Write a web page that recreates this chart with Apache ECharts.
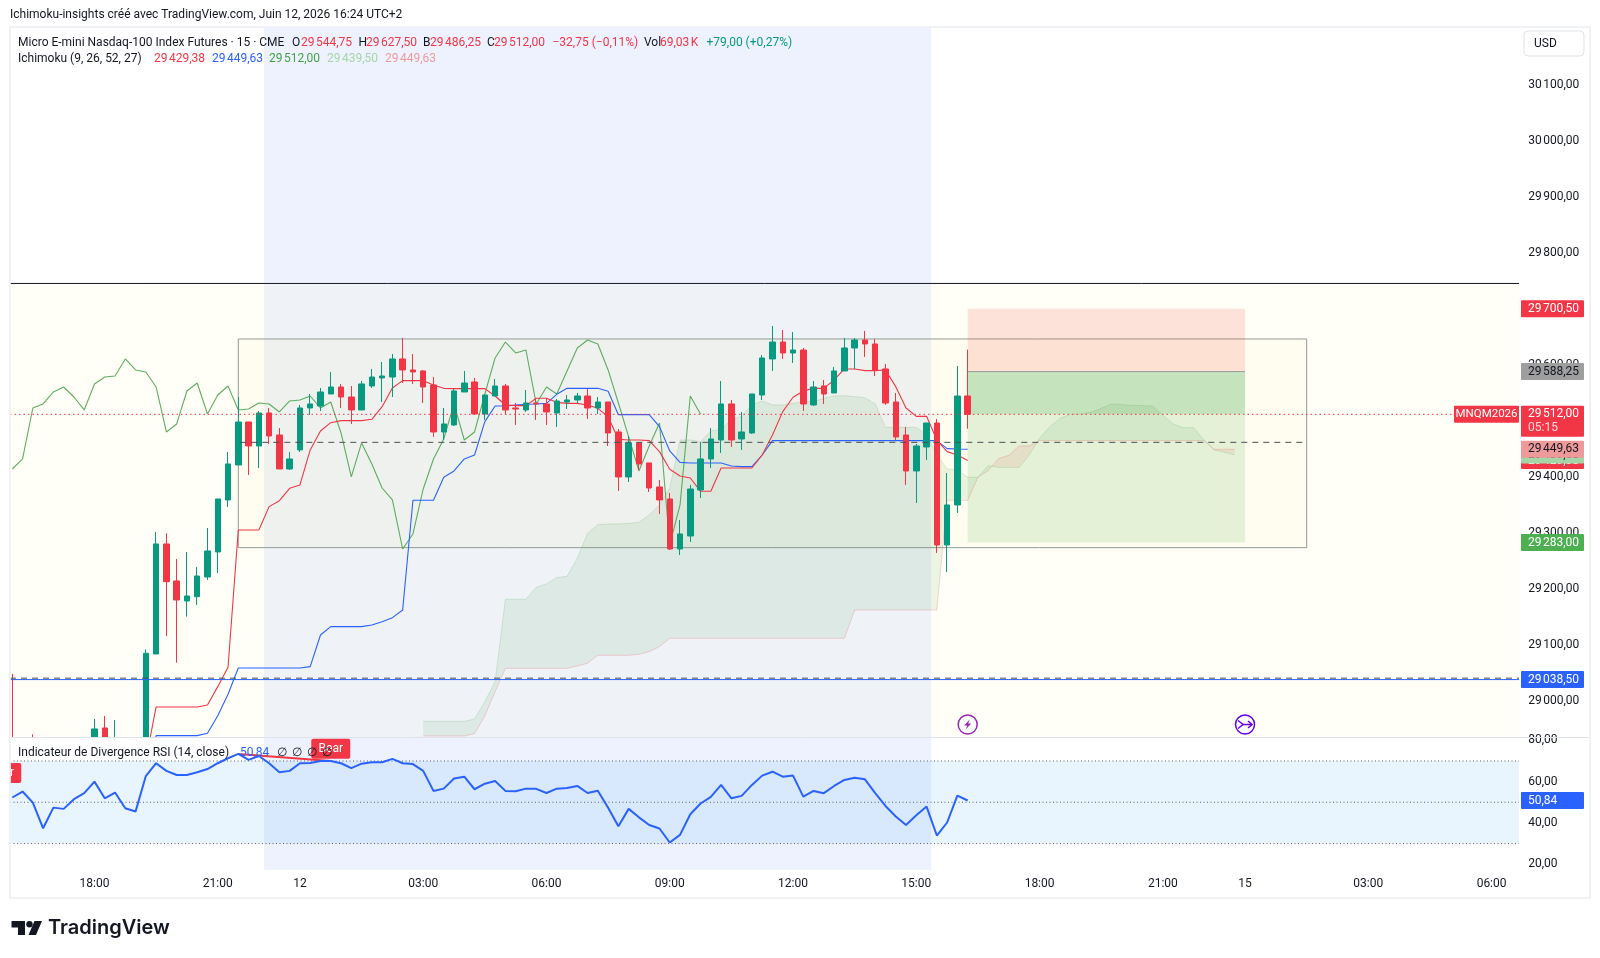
<!DOCTYPE html>
<html><head><meta charset="utf-8">
<script src="https://cdn.jsdelivr.net/npm/echarts@6/dist/echarts.min.js"></script>
<style>html,body{margin:0;padding:0;background:#fff}#c{width:1600px;height:958px}</style></head>
<body><div id="c"></div>
<script>
const tickLabels = {8:'18:00',20:'21:00',28:'12',40:'03:00',52:'06:00',64:'09:00',76:'12:00',88:'15:00',100:'18:00',112:'21:00',120:'15',132:'03:00',144:'06:00'};
const barCount = 147;
const categories = Array.from({length: barCount}, (_, i) => tickLabels[i] || '');
// [open, close, low, high]
const candles = [
[28930,28900,28890,29048.5],[28905,28912,28895,28925],[28920,28905,28895,28940.8],[28905,28895,28885,28915],
[28895,28900,28880,28910],[28900,28890,28875,28915],[28890,28905,28880,28918],[28905,28930,28895,28934],
[28925,28950.4,28915,28968.2],[28952.1,28920,28905,28973.5],[28910,28932,28900,28966.4],[28932,28925,28905,28934],
[28925,28933,28915,28934],[28930,29085.4,28925,29092.5],[29084.2,29280.6,29084.2,29302],[29280.6,29213.3,29116.3,29299.6],
[29214.5,29180.6,29068.7,29253.8],[29178.8,29187.7,29150.9,29266.3],[29186.5,29223.4,29171.7,29239.5],[29221.7,29268.1,29216.3,29309.1],
[29266.3,29360.9,29228.8,29360.9],[29359.1,29423.4,29346.6,29444.8],[29421.6,29498.3,29421.6,29543],[29498.3,29455.5,29403.7,29498.3],
[29455.5,29514.4,29416.2,29518],[29514.4,29473.3,29459.1,29523.3],[29475.1,29414.4,29414.4,29487.6],[29414.4,29432.3,29412.7,29444.8],
[29448.4,29523.3,29444.8,29528.7],[29523.3,29530.5,29510.8,29548.3],[29526.9,29551.9,29518,29559],[29548.3,29560.8,29548.3,29587.6],
[29560.8,29542.9,29523.3,29566.2],[29542.9,29519.8,29494.8,29562.6],[29519.8,29566.2,29519.8,29571.5],[29562.6,29578.6,29559,29593],
[29576.9,29580.4,29534,29605.4],[29578.6,29610.8,29542.9,29619.7],[29610.8,29591.2,29567.9,29648.3],[29591.2,29587.6,29566.2,29619.7],
[29589.4,29560.8,29532.2,29591.2],[29564.4,29480.5,29471.6,29578.6],[29480.5,29494.8,29466.2,29523.3],[29493,29553.7,29491.2,29557.2],
[29551.9,29567.9,29551.9,29589.4],[29569.7,29512.6,29512.6,29576.9],[29512.6,29546.5,29501.9,29546.5],[29544.7,29562.6,29544.7,29575.1],
[29562.6,29519.8,29510.8,29566.2],[29523.3,29521.5,29493,29532.2],[29519.8,29532.2,29516.2,29555.5],[29532.2,29530.5,29501.9,29541.2],
[29530.5,29516.2,29493,29541.2],[29514.4,29535.8,29489.4,29539.4],[29534,29537.6,29521.5,29546.5],[29537.6,29544.7,29532.2,29550.1],
[29544.7,29523.3,29503.7,29557.2],[29523.3,29534,29512.6,29542.9],[29534,29478.7,29455.5,29534],[29480.5,29400.2,29375.2,29485.8],
[29400.2,29460.9,29391.2,29473.3],[29460.9,29423.4,29412.7,29460.9],[29425.2,29380.5,29373.4,29425.2],[29382.3,29359.1,29334.1,29394.8],
[29360.9,29271.6,29269.9,29371.6],[29271.6,29298.4,29260.9,29323.4],[29294.8,29378.7,29284.1,29385.9],[29376.9,29432.3,29362.7,29462.6],
[29432.3,29468,29416.2,29487.6],[29466.2,29530.5,29443,29571.5],[29530.5,29466.2,29453.7,29537.6],[29468,29480.5,29448.4,29516.2],
[29478.7,29548.3,29476.9,29548.3],[29546.5,29612.6,29537.6,29617.9],[29610.8,29641.1,29589.4,29669.7],[29641.1,29621.5,29610.8,29662.5],
[29621.5,29626.8,29603.6,29659],[29626.8,29530.5,29518,29630.4],[29528.7,29560.8,29526.9,29571.5],[29562.6,29548.3,29530.5,29573.3],
[29550.1,29589.4,29550.1,29596.5],[29589.4,29630.4,29589.4,29648.3],[29630.4,29644.7,29593,29648.3],[29644.7,29637.6,29614.4,29660.8],
[29637.6,29591.2,29580.4,29646.5],[29593,29532.2,29528.7,29601.9],[29534,29471.6,29466.2,29550.1],[29475.1,29410.9,29385.9,29489.4],
[29410.9,29455.5,29353.8,29459.1],[29453.7,29496.5,29430.5,29496.5],[29496.5,29278.8,29264.5,29503.7],[29278.8,29350.2,29230.6,29407.3],
[29350.2,29544.7,29335.9,29598.3],[29544.75,29512,29486.25,29627.5]];
const n=null;
const tenkan = [n,n,n,n,n,n,n,n,n,n,n,n,n,28895,28989.6,28989.6,28989.6,28989.6,28989.6,28993.2,29025.9,29060.4,29305.5,29305.5,29305.5,29347.2,29357.9,29379.9,29385.9,29448.4,29482.3,29497.1,29500.7,29500.7,29500.7,29503.1,29525.7,29559,29572.1,29572.1,29572.1,29564.4,29558.4,29557.8,29557.8,29557.8,29557.8,29544.7,29528.7,29527.5,29527.5,29540.6,29540.6,29533.4,29531.6,29531.6,29528.7,29522.7,29507.8,29467.4,29466.2,29466.2,29465,29445.4,29413.8,29401.9,29398.4,29374.6,29374.6,29416.2,29416.2,29416.2,29416.2,29439.4,29475.1,29516.8,29542.4,29553.6,29558.4,29558.4,29573.3,29593,29593,29590,29590,29591.2,29561.4,29523.3,29508.4,29508.4,29466.2,29445.4,29439.4,29429.38];
const kijun = [n,n,n,n,n,n,n,n,n,n,n,n,n,28847,28938.4,28938.4,28938.4,28938.4,28938.4,28942.6,28974.1,29012.2,29059.2,29059.2,29059.2,29059.2,29059.2,29059.2,29059.2,29061.6,29118.1,29133,29133,29133,29133,29136,29141.9,29149,29162.7,29358.5,29358.5,29358.5,29399.6,29410.9,29432.3,29439.4,29498.9,29526.9,29526.9,29528.7,29529.9,29530.5,29531.6,29547.7,29558.4,29558.4,29558.4,29558.4,29553.1,29511.4,29511.4,29511.4,29511.4,29490,29446.6,29426.3,29425.1,29425.1,29425.1,29425.1,29419.8,29418.6,29418.6,29439.4,29465,29465,29465,29465,29465,29465,29465,29465,29465,29465,29465,29465,29465,29465,29465,29465,29465,29450.7,29450.1,29449.63];
const chikou = [29414.4,29432.3,29523.3,29530.5,29551.9,29560.8,29542.9,29519.8,29566.2,29578.6,29580.4,29610.8,29591.2,29587.6,29560.8,29480.5,29494.8,29553.7,29567.9,29512.6,29546.5,29562.6,29519.8,29521.5,29532.2,29530.5,29516.2,29535.8,29537.6,29544.7,29523.3,29534,29478.7,29400.2,29460.9,29423.4,29380.5,29359.1,29271.6,29298.4,29378.7,29432.3,29468,29530.5,29466.2,29480.5,29548.3,29612.6,29641.1,29621.5,29626.8,29530.5,29560.8,29548.3,29589.4,29630.4,29644.7,29637.6,29591.2,29532.2,29471.6,29410.9,29455.5,29496.5,29278.8,29350.2,29544.7,29512];
const spanStart = 40;
const spanA = [28964,28964,28964,28964,28964,28968.2,28999.1,29034.8,29181.8,29181.8,29181.8,29203.2,29209.2,29220.5,29222.8,29255,29299.6,29315.1,29316.3,29316.3,29317.4,29319.2,29332.3,29350.2,29379.9,29466.2,29466.2,29463.2,29482.3,29485.2,29501.9,29509,29528.7,29535.8,29528.7,29528.7,29531.6,29534.6,29534.6,29540.6,29544.7,29545.3,29543.5,29541.8,29530.5,29488.8,29488.8,29488.8,29488.8,29475.1,29439.4,29414.4,29412.7,29399.6,29399.6,29420.4,29417.4,29417.4,29417.4,29439.4,29469.2,29490,29504.9,29512,29512.6,29515.6,29522.7,29530.5,29529.3,29528.1,29527.5,29526.9,29510.8,29494.8,29488.2,29488.2,29466.2,29448.4,29444.2,29439.5];
const spanB = [28937.8,28937.8,28937.8,28937.8,28937.8,28942,28974.1,29017,29058.6,29058.6,29058.6,29058.6,29058.6,29058.6,29058.6,29062.8,29067.6,29081.8,29081.8,29081.8,29081.8,29083.6,29088.4,29097.3,29112.2,29112.2,29112.2,29112.2,29112.2,29112.2,29112.2,29112.2,29112.2,29112.2,29112.2,29112.2,29112.2,29112.2,29112.2,29112.2,29112.2,29112.2,29162.7,29162.7,29162.7,29162.7,29162.7,29162.7,29162.7,29162.7,29162.7,29358.5,29358.5,29358.5,29399.6,29411.5,29432.9,29438.8,29455.5,29455.5,29465,29465,29465,29465,29465,29465,29465,29465,29465,29465,29465,29465,29465,29465,29465,29465,29465,29449.63,29449.63,29449.63];
const rsi = [52.3,55.2,49.8,37.4,47.4,46.8,51.5,54.4,60,51.9,54.7,47.1,45.5,62.7,68.9,65.2,63.2,63.2,64.5,66.1,68.9,71.3,73.4,70.5,72.4,68.9,64.5,65.2,68.9,69,70,70,68.9,66.5,68.7,69.4,69.4,71,68.9,68.5,65.2,55.5,56.6,61.5,62.4,56.3,59,60.3,55.5,55.3,56.6,56.5,54.5,56.6,56.9,57.9,54.5,55.6,47.3,38.4,46.8,42.7,39,37.3,30.5,34.2,44.2,49.4,52.6,58.4,51.9,53.1,58.4,62.9,64.8,62.4,62.9,52.7,55.5,54.4,57.9,60.8,61.9,61.1,54.4,48.2,43.1,39,43.7,47.9,33.9,40.2,53.2,50.84];
const bearDivergence = [[22,73.4],[31,70]];
const priceTicks = [29000,29100,29200,29300,29400,29500,29600,29700,29800,29900,30000,30100];
const rsiTicks = [20,40,60,80];

const FONT = 'Roboto,sans-serif';
const UP='#089981', DOWN='#F23645', BLUE='#2962FF';
function fmt(v){const p=v.toFixed(2).split('.');return p[0].replace(/\B(?=(\d{3})+$)/g,'\u202f')+','+p[1];}
function xAt(api,v){const i=Math.floor(v);const a=api.coord([i,0])[0],b=api.coord([i+1,0])[0];return a+(b-a)*(v-i);}
const py=(api,p)=>api.coord([0,p])[1];
function rectShape(api,x0,x1,p0,p1){const a=py(api,p0),b=py(api,p1);return {x:x0,y:Math.min(a,b),width:x1-x0,height:Math.abs(b-a)};}

const C = {sessionStart:24.5,sessionEnd:89.45,black:29745.6,boxL:22,boxR:126,boxT:29646.5,boxB:29274,toolL:93,toolR:120,stop:29700.5,entry:29588.25,target:29283,last:29512,mid:29462,low:29041,blue:29038.5};

function renderBg(params,api){
  const cs=params.coordSys, L=10, R=1519, top=cs.y, bot=cs.y+cs.height;
  const sx0=xAt(api,C.sessionStart), sx1=xAt(api,C.sessionEnd);
  const bl=py(api,C.black);
  const kids=[
   {type:'rect',shape:{x:sx0,y:top,width:sx1-sx0,height:bot-top},style:{fill:'#eef2fe'}},
   {type:'rect',shape:{x:L,y:bl,width:R-L,height:bot-bl},style:{fill:'rgba(255,245,157,0.08)'}},
  ];
  const bx0=xAt(api,C.boxL), bx1=xAt(api,C.boxR);
  kids.push({type:'rect',shape:rectShape(api,bx0,bx1,C.boxT,C.boxB),style:{fill:'rgba(255,235,59,0.04)',stroke:'#939c96',lineWidth:1}});
  const tx0=xAt(api,C.toolL), tx1=xAt(api,C.toolR);
  kids.push({type:'rect',shape:rectShape(api,tx0,tx1,C.stop,C.entry),style:{fill:'rgba(244,67,54,0.15)'}});
  kids.push({type:'rect',shape:rectShape(api,tx0,tx1,C.entry,C.target),style:{fill:'rgba(76,175,80,0.15)'}});
  kids.push({type:'rect',shape:rectShape(api,tx0,tx1,C.entry,C.last),style:{fill:'rgba(76,175,80,0.2)'}});
  kids.push({type:'line',shape:{x1:tx0,x2:tx1,y1:py(api,C.entry),y2:py(api,C.entry)},style:{stroke:'#9b9b9b',lineWidth:1}});
  return {type:'group',children:kids};
}
function renderCloud(params,api){
  const polys=[]; let upper=[],lower=[],sign=null;
  const flush=()=>{ if(upper.length>1){polys.push({type:'polygon',shape:{points:upper.concat(lower.slice().reverse())},style:{fill:sign>=0?'rgba(67,160,71,0.1)':'rgba(244,67,54,0.1)'}});} };
  for(let k=0;k<spanA.length;k++){
    const xp=api.coord([spanStart+k,0])[0];
    const ya=py(api,spanA[k]), yb=py(api,spanB[k]);
    const s=spanA[k]>=spanB[k]?1:-1;
    if(sign!==null && s!==sign){
      const xo=api.coord([spanStart+k-1,0])[0], yao=py(api,spanA[k-1]), ybo=py(api,spanB[k-1]);
      const t=(yao-ybo)/((yao-ybo)-(ya-yb));
      const cx=xo+(xp-xo)*t, cy=yao+(ya-yao)*t;
      upper.push([cx,cy]);lower.push([cx,cy]);flush();upper=[[cx,cy]];lower=[[cx,cy]];
    }
    sign=s; upper.push([xp,ya]);lower.push([xp,yb]);
  }
  flush();
  return {type:'group',children:polys};
}
function renderFg(params,api){
  const L=10,R=1519; const kids=[];
  const h=(x1,x2,p,stroke,dash,w)=>{const y=py(api,p);kids.push({type:'line',shape:{x1,x2,y1:y,y2:y},style:{stroke,lineWidth:w||1,lineDash:dash||null}});};
  h(L,R,C.black,'#131722');
  h(L,1453,C.last,'#F23645',[1.5,3]);
  h(xAt(api,C.boxL)+2,xAt(api,125.6),C.mid,'#4a4f55',[6,5]);
  h(L,R,C.low,'#4a4f55',[6,5]);
  h(L,R,C.blue,BLUE,null,1);
  return {type:'group',children:kids};
}
function tagAt(api,p,text,bg,fg,extraH){
  const y=py(api,p),H=17;const x=1521,W=63;
  return [{type:'rect',shape:{x,y:y-H/2,width:W,height:H+(extraH||0),r:1},style:{fill:bg}},
   {type:'text',style:{x:x+7,y,text,fill:fg,font:'12px '+FONT,align:'left',verticalAlign:'middle',textAlign:'left',textVerticalAlign:'middle'}}];
}
function renderTags(params,api){
  let kids=[];
  kids=kids.concat(tagAt(api,29429.38,fmt(29429.38),'#F23645','#fff'));
  kids=kids.concat(tagAt(api,29439.5,fmt(29439.5),'#A5D6A7','#131722'));
  kids=kids.concat(tagAt(api,29449.63,fmt(29449.63),'#EF9A9A','#131722'));
  kids=kids.concat(tagAt(api,29700.5,fmt(29700.5),'#F23645','#fff'));
  kids=kids.concat(tagAt(api,29588.25,fmt(29588.25),'#9e9e9e','#131722'));
  kids=kids.concat(tagAt(api,C.last,fmt(C.last),'#F23645','#fff',14));
  const ly=py(api,C.last);
  kids.push({type:'text',style:{x:1528,y:ly+14,text:'05:15',fill:'#ffd9dc',font:'12px '+FONT,align:'left',verticalAlign:'middle',textAlign:'left',textVerticalAlign:'middle'}});
  kids.push({type:'rect',shape:{x:1454,y:ly-8.5,width:65,height:17,r:1},style:{fill:'#F23645'}});
  kids.push({type:'text',style:{x:1486.5,y:ly,text:'MNQM2026',fill:'#fff',font:'11.5px '+FONT,align:'center',verticalAlign:'middle',textAlign:'center',textVerticalAlign:'middle'}});
  kids=kids.concat(tagAt(api,C.target,fmt(C.target),'#4CAF50','#fff'));
  kids=kids.concat(tagAt(api,C.blue,fmt(C.blue),BLUE,'#fff'));
  const iy=724.5, ix=api.coord([C.toolL,0])[0], jx=api.coord([C.toolR,0])[0];
  kids.push({type:'circle',shape:{cx:ix,cy:iy,r:9.5},style:{fill:'#fff',stroke:'#9C27B0',lineWidth:1.5}});
  kids.push({type:'polygon',shape:{points:[[ix+2,iy-5],[ix-3.5,iy+1],[ix-0.5,iy+1],[ix-2,iy+5],[ix+3.5,iy-1],[ix+0.5,iy-1]]},style:{fill:'#9C27B0'}});
  kids.push({type:'circle',shape:{cx:jx,cy:iy,r:9.5},style:{fill:'#fff',stroke:'#6200EA',lineWidth:1.5}});
  kids.push({type:'polyline',shape:{points:[[jx-7,iy-4],[jx-2,iy],[jx-7,iy+4]]},style:{fill:'none',stroke:'#6200EA',lineWidth:1.5}});
  kids.push({type:'polyline',shape:{points:[[jx-2,iy],[jx+7,iy]]},style:{fill:'none',stroke:'#6200EA',lineWidth:1.5}});
  kids.push({type:'polyline',shape:{points:[[jx+3,iy-3.5],[jx+7,iy],[jx+3,iy+3.5]]},style:{fill:'none',stroke:'#6200EA',lineWidth:1.5}});
  return {type:'group',children:kids};
}
function renderRsiBg(params,api){
  const cs=params.coordSys, L=10,R=1519, top=cs.y, bot=cs.y+cs.height;
  const sx0=xAt(api,C.sessionStart), sx1=xAt(api,C.sessionEnd);
  const ya=py(api,70),yb=py(api,30),ym=py(api,50);
  const kids=[{type:'rect',shape:{x:L,y:top,width:R-L,height:bot-top+2},style:{fill:'#ffffff'}},
    {type:'rect',shape:{x:sx0,y:top,width:sx1-sx0,height:bot-top},style:{fill:'#eef2fe'}},
    {type:'rect',shape:{x:L,y:ya,width:R-L,height:yb-ya},style:{fill:'rgba(33,150,243,0.1)'}}];
  [ya,ym,yb].forEach(y=>kids.push({type:'line',shape:{x1:L,x2:R,y1:y,y2:y},style:{stroke:'#5d606b',lineWidth:1,lineDash:[1,2.5]}}));
  return {type:'group',children:kids};
}
function renderRsiTags(params,api){
  const lab=(cx,val,w,t)=>{const y=py(api,val);return [
    {type:'rect',shape:{x:cx-w/2,y:y-10,width:w,height:20,r:2},style:{fill:'#F23645'}},
    {type:'text',style:{x:cx,y,text:t,fill:'#fff',font:'12px '+FONT,align:'center',verticalAlign:'middle',textAlign:'center',textVerticalAlign:'middle'}}];};
  const x31=api.coord([31,0])[0];
  let kids=lab(x31,75.9,39,'Bear').concat(lab(x31-329,64.2,39,'Bear'));
  const y=py(api,rsi[rsi.length-1]);
  kids.push({type:'rect',shape:{x:1521,y:y-8.5,width:63,height:17,r:1},style:{fill:BLUE}});
  kids.push({type:'text',style:{x:1528,y,text:fmt(50.84),fill:'#fff',font:'12px '+FONT,align:'left',verticalAlign:'middle',textAlign:'left',textVerticalAlign:'middle'}});
  return {type:'group',children:kids};
}

const one=[[0,0]];
const lineS=(name,data,color,w,z,opacity)=>({name,type:'line',data,xAxisIndex:0,yAxisIndex:0,symbol:'none',z,silent:true,lineStyle:{color,width:w,opacity:opacity==null?1:opacity},connectNulls:false,animation:false});
const pad=(start,arr)=>Array(start).fill(null).concat(arr);

const chart=echarts.init(document.getElementById('c'),null,{renderer:'canvas'});
const txt=(x,y,text,fill,font,extra)=>Object.assign({type:'text',z:60,style:{x,y,text,fill,font:font||('12px '+FONT),textAlign:'left',textVerticalAlign:'middle'}},extra||{});
const RED='#F23645';
const graphicEls=[
 {type:'rect',z:50,shape:{x:0,y:20,width:10.5,height:900},style:{fill:'#fff'}},
 {type:'rect',z:60,shape:{x:10,y:27,width:1580,height:871},style:{fill:'none',stroke:'#eceef2',lineWidth:1.5}},
 {type:'line',z:55,shape:{x1:10.5,x2:1590,y1:737.5,y2:737.5},style:{stroke:'#e0e3eb',lineWidth:1}},
 txt(10,15,'Ichimoku-insights créé avec TradingView.com, Juin 12, 2026 16:24 UTC+2','#131722'),
 txt(18,42.5,'Micro E-mini Nasdaq-100 Index Futures · 15 · CME','#131722'),
 txt(292,42.5,'O','#131722'),txt(301,42.5,fmt(29544.75),RED),
 txt(358.5,42.5,'H','#131722'),txt(366,42.5,fmt(29627.5),RED),
 txt(423,42.5,'B','#131722'),txt(430,42.5,fmt(29486.25),RED),
 txt(487,42.5,'C','#131722'),txt(494,42.5,fmt(29512),RED),
 txt(552.5,42.5,'−32,75 (−0,11%)',RED),
 txt(644,42.5,'Vol','#131722'),txt(660,42.5,'69,03\u202fK',RED),
 txt(706.5,42.5,'+79,00 (+0,27%)',UP),
 txt(18,59,'Ichimoku (9, 26, 52, 27)','#131722'),
 txt(154,59,fmt(29429.38),RED),txt(212,59,fmt(29449.63),BLUE),txt(269,59,fmt(29512),'#43A047'),txt(327,59,fmt(29439.5),'#A5D6A7'),txt(385,59,fmt(29449.63),'#EF9A9A'),
 txt(18,753,'Indicateur de Divergence RSI (14, close)','#131722'),
 txt(240,753,'50,84',BLUE),txt(277,753,'∅','#131722'),txt(292,753,'∅','#131722'),txt(307,753,'∅','#131722'),txt(322,753,'∅','#131722'),
 {type:'rect',z:60,shape:{x:1524,y:31,width:60,height:25,r:4},style:{fill:'#fff',stroke:'#e0e3eb',lineWidth:1}},
 txt(1534,44,'USD','#131722','12px '+FONT),
 {type:'polygon',z:60,shape:{points:[[11.5,921],[25,921],[25,935],[18,935],[18,927.5],[11.5,927.5]]},style:{fill:'#131722'}},
 {type:'circle',z:60,shape:{cx:29.5,cy:924.3,r:3.2},style:{fill:'#131722'}},
 {type:'polygon',z:60,shape:{points:[[34.5,921],[42,921],[36,935],[28.5,935]]},style:{fill:'#131722'}},
 txt(48,928,'TradingView','#131722','600 20px Inter,Roboto,sans-serif')
];
chart.setOption({
 animation:false,
 backgroundColor:'#ffffff',
 grid:[{left:7.16,top:27,width:1510.1,height:710},{left:7.16,top:737,width:1510.1,height:133}],
 xAxis:[
  {type:'category',gridIndex:0,data:categories,boundaryGap:true,axisLine:{show:false},axisTick:{show:false},axisLabel:{show:false},splitLine:{show:false}},
  {type:'category',gridIndex:1,data:categories,boundaryGap:true,axisLine:{show:false},axisTick:{show:false},splitLine:{show:false},
   axisLabel:{interval:0,hideOverlap:false,color:'#131722',fontFamily:FONT,fontSize:12,margin:8}}
 ],
 yAxis:[
  {type:'value',gridIndex:0,position:'right',min:28936,max:30203.4,axisLine:{show:false},axisTick:{show:false},splitLine:{show:false},
   axisLabel:{customValues:priceTicks,color:'#131722',fontFamily:FONT,fontSize:12,margin:11,formatter:v=>fmt(v)}},
  {type:'value',gridIndex:1,position:'right',min:17.2,max:81.6,axisLine:{show:false},axisTick:{show:false},splitLine:{show:false},
   axisLabel:{customValues:rsiTicks,color:'#131722',fontFamily:FONT,fontSize:12,margin:11,formatter:v=>fmt(v)}}
 ],
 series:[
  {type:'custom',name:'background',xAxisIndex:0,yAxisIndex:0,z:1,clip:false,silent:true,data:one,renderItem:renderBg},
  {type:'custom',name:'cloud',xAxisIndex:0,yAxisIndex:0,z:2,clip:true,silent:true,data:one,renderItem:renderCloud},
  lineS('Span A',pad(spanStart,spanA),'#43A047',1,3,0.18),
  lineS('Span B',pad(spanStart,spanB),'#F23645',1,3,0.2),
  lineS('Chikou',chikou,'#43A047',1.1,4,0.85),
  lineS('Kijun',kijun,BLUE,1.1,4),
  lineS('Tenkan',tenkan,'#F23645',1.1,4),
  {type:'candlestick',name:'MNQM2026',xAxisIndex:0,yAxisIndex:0,data:candles,z:5,barWidth:6,clip:true,silent:true,
   itemStyle:{color:UP,color0:DOWN,borderColor:UP,borderColor0:DOWN,borderWidth:1}},
  {type:'custom',name:'levels',xAxisIndex:0,yAxisIndex:0,z:6,clip:false,silent:true,data:one,renderItem:renderFg},
  {type:'custom',name:'rsiBackground',xAxisIndex:1,yAxisIndex:1,z:7,clip:false,silent:true,data:one,renderItem:renderRsiBg},
  {type:'line',name:'Bear divergence',xAxisIndex:1,yAxisIndex:1,data:bearDivergence,symbol:'none',z:8,silent:true,lineStyle:{color:'#F23645',width:2}},
  {type:'line',name:'RSI',xAxisIndex:1,yAxisIndex:1,data:rsi,symbol:'none',z:9,silent:true,lineStyle:{color:BLUE,width:2}},
  {type:'custom',name:'tags',xAxisIndex:0,yAxisIndex:0,z:10,clip:false,silent:true,data:one,renderItem:renderTags},
  {type:'custom',name:'rsiTags',xAxisIndex:1,yAxisIndex:1,z:10,clip:false,silent:true,data:one,renderItem:renderRsiTags}
 ],
 graphic:{elements:graphicEls}
});
</script></body></html>
